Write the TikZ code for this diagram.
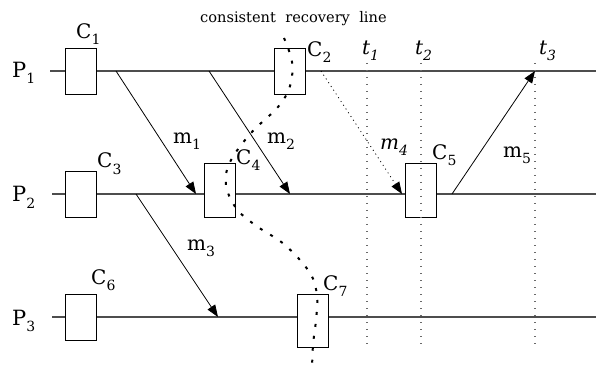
\documentclass[tikz,border=0pt]{standalone}
\usepackage{fontspec}
\setmainfont{DejaVu Serif}
\usetikzlibrary{arrows.meta}
\definecolor{linegray}{HTML}{4D4D4D}
\definecolor{dotgray}{HTML}{6A6A6A}
\newcommand{\lblsub}[2]{#1\raisebox{-6pt}{\fontsize{14}{14}\selectfont #2}}
\tikzset{
  ckpt/.style={rectangle,draw=black,fill=white,line width=0.9pt,minimum width=31pt,inner sep=0pt},
  proc/.style={draw=linegray,line width=1.1pt},
  msg/.style={-{Triangle[length=12pt,width=9pt]},line width=0.8pt},
  lostmsg/.style={msg,dash pattern=on 1pt off 3.5pt},
  timeline/.style={draw=dotgray,line width=1.4pt,dash pattern=on 1.4pt off 5.6pt},
  recline/.style={line width=2pt,dash pattern=on 3pt off 9pt},
  lbl/.style={anchor=base west,inner sep=0pt,font=\fontsize{20}{24}\selectfont}
}

\begin{document}
\begin{tikzpicture}[x=1pt,y=-1pt]
\useasboundingbox (0,0) rectangle (596,371);
\coordinate (p1s) at (50,71);  \coordinate (p1e) at (596,71);
\coordinate (p2s) at (52,194); \coordinate (p2e) at (596,194);
\coordinate (p3s) at (52,317); \coordinate (p3e) at (596,317);
\draw[proc] (p1s) -- (p1e);
\draw[proc] (p2s) -- (p2e);
\draw[proc] (p3s) -- (p3e);
\node[lbl,font=\fontsize{21}{24}\selectfont] (P1) at (12,78) {\lblsub{P}{1}};
\node[lbl,font=\fontsize{21}{24}\selectfont] (P2) at (12,202) {\lblsub{P}{2}};
\node[lbl,font=\fontsize{21}{24}\selectfont] (P3) at (12,325) {\lblsub{P}{3}};

\node[ckpt,minimum height=46pt] (C1) at (81,71) {};
\node[ckpt,minimum height=46pt] (C2) at (289.5,71) {};
\node[ckpt,minimum height=46pt] (C3) at (81,194) {};
\node[ckpt,minimum height=54pt] (C4) at (219.5,190) {};
\node[ckpt,minimum height=54pt] (C5) at (421,190) {};
\node[ckpt,minimum height=46pt] (C6) at (81,317) {};
\node[ckpt,minimum height=53pt] (C7) at (312.5,320.5) {};
\node[lbl] (lC1) at (76,39) {\lblsub{C}{1}};
\node[lbl] (lC2) at (307,57) {\lblsub{C}{2}};
\node[lbl] (lC3) at (97,168) {\lblsub{C}{3}};
\node[lbl] (lC4) at (236,165) {\lblsub{C}{4}};
\node[lbl] (lC5) at (432,160) {\lblsub{C}{5}};
\node[lbl] (lC6) at (91,284) {\lblsub{C}{6}};
\node[lbl] (lC7) at (323,290) {\lblsub{C}{7}};

\coordinate (s1) at (116,71);  \coordinate (r1) at (196,194);
\coordinate (s2) at (209,71);  \coordinate (r2) at (290,194);
\coordinate (s3) at (136,194); \coordinate (r3) at (218,317);
\coordinate (s4) at (321,71);  \coordinate (r4) at (402,194);
\coordinate (s5) at (452,194); \coordinate (r5) at (535,71);
\draw[msg] (s1) -- (r1);
\draw[msg] (s2) -- (r2);
\draw[msg] (s3) -- (r3);
\draw[lostmsg] (s4) -- (r4);
\draw[msg] (s5) -- (r5);
\node[lbl] (m1) at (173,144) {\lblsub{m}{1}};
\node[lbl] (m2) at (267,144) {\lblsub{m}{2}};
\node[lbl] (m3) at (187,250) {\lblsub{m}{3}};
\node[lbl,font=\fontsize{20}{24}\selectfont\itshape] (m4) at (380,150) {\lblsub{m}{4}};
\node[lbl] (m5) at (503,158) {\lblsub{m}{5}};

\foreach \tx/\tn in {367/1,421/2,535/3}{
  \coordinate (t\tn top) at (\tx,63);
  \coordinate (t\tn bot) at (\tx,345);
  \draw[timeline] (t\tn top) -- (t\tn bot);
}
\node[lbl,font=\fontsize{20}{24}\selectfont\itshape] (t1) at (362,55) {\lblsub{t}{1}};
\node[lbl,font=\fontsize{20}{24}\selectfont\itshape] (t2) at (415,55) {\lblsub{t}{2}};
\node[lbl,font=\fontsize{20}{24}\selectfont\itshape] (t3) at (539,55) {\lblsub{t}{3}};

\node[lbl,font=\fontsize{14.6}{16}\selectfont] (rec) at (200,23) {consistent\ \ recovery\ \ line};
\draw[recline] plot[smooth,tension=0.6] coordinates {(284,38) (292,62) (290,86) (278,107)
  (251,133) (230,162) (226,185) (236,208) (255,225) (285,245) (310,273) (317,296)
  (316,320) (313,345) (312,370)};
\end{tikzpicture}
\end{document}
